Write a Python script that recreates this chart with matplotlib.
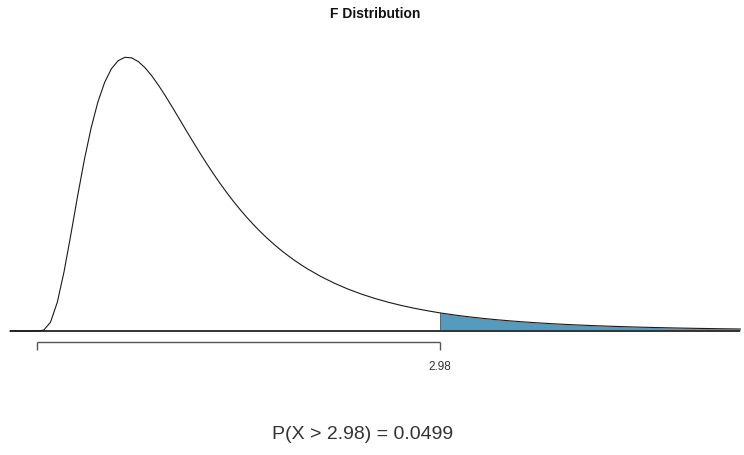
import matplotlib
matplotlib.use("Agg")
import matplotlib.pyplot as plt

# F(10, 10) density read at these x values
x_vals = [-0.20, 0.00, 0.05, 0.10, 0.15, 0.20, 0.25, 0.30, 0.35, 0.40, 0.45,
          0.50, 0.55, 0.60, 0.65, 0.70, 0.75, 0.80, 0.85, 0.90, 0.95,
          1.00, 1.05, 1.10, 1.15, 1.20, 1.25, 1.30, 1.35, 1.40, 1.45,
          1.50, 1.55, 1.60, 1.65, 1.70, 1.75, 1.80, 1.85, 1.90, 1.95,
          2.00, 2.10, 2.20, 2.30, 2.40, 2.50, 2.60, 2.70, 2.80, 2.90,
          2.98, 3.00, 3.10, 3.20, 3.30, 3.40, 3.50, 3.60, 3.70, 3.80,
          3.90, 4.00, 4.10, 4.20, 4.30, 4.40, 4.50, 4.60, 4.70, 4.80,
          4.90, 5.00, 5.10, 5.20]
density = [0.00000, 0.00000, 0.00242, 0.02429, 0.07884, 0.16280, 0.26424, 0.37016, 0.47019, 0.55757, 0.62880,
           0.68282, 0.72024, 0.74258, 0.75189, 0.75031, 0.73995, 0.72273, 0.70032, 0.67418, 0.64549,
           0.61523, 0.58420, 0.55299, 0.52209, 0.49186, 0.46255, 0.43435, 0.40738, 0.38172, 0.35740,
           0.33443, 0.31280, 0.29247, 0.27341, 0.25556, 0.23887, 0.22328, 0.20873, 0.19515, 0.18250,
           0.17071, 0.14949, 0.13108, 0.11511, 0.10125, 0.08921, 0.07874, 0.06963, 0.06168, 0.05474,
           0.04982, 0.04867, 0.04335, 0.03868, 0.03457, 0.03095, 0.02776, 0.02494, 0.02245, 0.02023,
           0.01827, 0.01652, 0.01495, 0.01356, 0.01232, 0.01120, 0.01020, 0.00930, 0.00849, 0.00776,
           0.00711, 0.00651, 0.00597, 0.00549]

cutoff = 2.98
tick_positions = [0.0, 2.98]
tick_labels = ["", "2.98"]
title = "F Distribution"
prob_text = "P(X > 2.98) = 0.0499"

W, H = 744, 456
fig = plt.figure(figsize=(W / 100, H / 100), dpi=100)
ax = fig.add_axes([0, 0, 1, 1])
ax.set_axis_off()

# pixel anchors: x=0 -> 37px, x=2.98 -> 440px ; y=0 -> 332px, peak -> 58px
px_per_x = (440 - 37) / 2.98
px_per_y = (332 - 58.3) / 0.75189
ax.set_xlim(-37 / px_per_x, (W - 37) / px_per_x)
ax.set_ylim(-(H - 332) / px_per_y, 332 / px_per_y)

# shaded tail
tail_x = [x for x in x_vals if x >= cutoff]
tail_y = [d for x, d in zip(x_vals, density) if x >= cutoff]
ax.fill_between(tail_x, 0, tail_y, color="#569BBD", linewidth=0)
ax.plot([cutoff, cutoff], [0, tail_y[0]], color="#2f5f7a", lw=0.6)

# baseline
ax.plot([x_vals[0], x_vals[-1]], [0, 0], color="#333333", lw=1.4, solid_capstyle="butt")
# density curve
ax.plot(x_vals, density, color="#1a1a1a", lw=0.8)

# bracket axis
yb = -(343 - 332) / px_per_y
yt = -(351 - 332) / px_per_y
ax.plot([tick_positions[0], tick_positions[-1]], [yb, yb], color="#555555", lw=1.0, solid_capstyle="butt")
for tp, tl in zip(tick_positions, tick_labels):
    ax.plot([tp, tp], [yb, yt], color="#555555", lw=1.0, solid_capstyle="butt")
    if tl:
        ax.text(tp, -(367 - 332) / px_per_y, tl, ha="center", va="center",
                fontsize=8.5, family=["Liberation Sans Narrow", "Liberation Sans", "DejaVu Sans"],
                color="#333333")

fig.text(375 / W, 1 - 14.5 / H, title, ha="center", va="center", fontsize=10, fontweight="bold",
         family=["Liberation Sans", "DejaVu Sans"], color="#111111")
fig.text(362.5 / W, 1 - 439.5 / H, prob_text, ha="center", va="baseline", fontsize=14,
         family=["Liberation Sans", "DejaVu Sans"], color="#333333")

fig.savefig("out.png", dpi=100)
